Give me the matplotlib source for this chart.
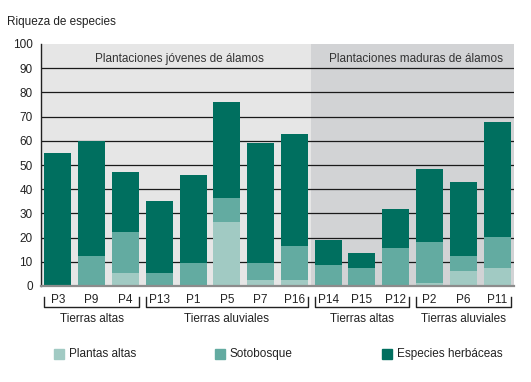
import matplotlib.pyplot as plt
import numpy as np
from matplotlib.patches import Rectangle
from matplotlib.transforms import blended_transform_factory

plt.rcParams['font.family'] = ['Liberation Sans', 'DejaVu Sans']

# data
parcelas = ['P3', 'P9', 'P4', 'P13', 'P1', 'P5', 'P7', 'P16',
            'P14', 'P15', 'P12', 'P2', 'P6', 'P11']
plantas_altas = [0, 0.5, 5.5, 0.5, 0.5, 26.5, 2.5, 2.5, 0.5, 0.5, 0.5, 1.2, 6.2, 7.4]
sotobosque = [0.5, 12, 17, 5, 9, 10, 7, 14, 8, 7, 15, 17, 6.2, 12.8]   # layer height
herbaceas = [54.5, 47.5, 24.5, 29.5, 36.5, 39.5, 49.5, 46.5, 10.5, 6, 16.5, 30, 30.5, 47.5]
grupos = [('Tierras altas', 0, 2), ('Tierras aluviales', 3, 7),
          ('Tierras altas', 8, 10), ('Tierras aluviales', 11, 13)]
plantaciones = [('Plantaciones jóvenes de álamos', -0.5, 7.5, 3.6),
                ('Plantaciones maduras de álamos', 7.5, 13.5, 10.6)]

c_light = '#a1cac3'
c_mid = '#63aba1'
c_dark = '#006f5f'

fig = plt.figure(figsize=(5.31, 3.82), dpi=100)
ax = fig.add_axes([41 / 531, 1 - 286 / 382, 473 / 531, 242 / 382])

x = np.arange(len(parcelas))
pa = np.array(plantas_altas)
so = np.array(sotobosque)
he = np.array(herbaceas)

# background bands
ax.axvspan(-0.5, 7.5, color='#e6e6e6', zorder=0, lw=0)
ax.axvspan(7.5, 13.5, color='#d2d3d5', zorder=0, lw=0)
for v in range(10, 100, 10):
    ax.axhline(v, color='#1a1a1a', lw=0.9, zorder=1)

ax.bar(x, pa, width=0.8, color=c_light, zorder=2)
ax.bar(x, so, width=0.8, bottom=pa, color=c_mid, zorder=2)
ax.bar(x, he, width=0.8, bottom=pa + so, color=c_dark, zorder=2)

ax.set_xlim(-0.5, 13.5)
ax.set_ylim(0, 100)
ax.set_yticks(range(0, 101, 10))
ax.set_xticks(x)
ax.set_xticklabels(parcelas)
ax.tick_params(length=0, labelsize=8.5, colors='#222222')
ax.tick_params(axis='x', pad=6)
ax.tick_params(axis='y', pad=6)
for s in ['top', 'right']:
    ax.spines[s].set_visible(False)
ax.spines['left'].set_color('#222222')
ax.spines['left'].set_linewidth(1)
ax.spines['bottom'].set_color('#8c8c8c')
ax.spines['bottom'].set_linewidth(1.6)

for txt, a, b, xc in plantaciones:
    ax.text(xc, 93.8, txt, ha='center', va='center', fontsize=8.5, color='#333333', zorder=3)

# brackets under the tick labels
tr = blended_transform_factory(ax.transData, ax.transAxes)
y_h = -21 / 242
y_t = -11 / 242
for txt, i0, i1 in grupos:
    xa, xb = i0 - 0.4, i1 + 0.4
    ax.plot([xa, xa, xb, xb], [y_t, y_h, y_h, y_t], color='#222222', lw=1,
            transform=tr, clip_on=False)
    ax.text((i0 + i1) / 2, -33 / 242, txt, ha='center', va='center',
            fontsize=8.5, color='#222222', transform=tr)

fig.text(7 / 531, 1 - 22 / 382, 'Riqueza de especies', ha='left', va='center',
         fontsize=8.5, color='#222222')

# legend
legend = [('Plantas altas', c_light, 54), ('Sotobosque', c_mid, 215),
          ('Especies herbáceas', c_dark, 382)]
for txt, col, px in legend:
    fig.patches.append(Rectangle((px / 531, 1 - 359 / 382), 10 / 531, 10 / 382,
                                 color=col, transform=fig.transFigure))
    fig.text((px + 15) / 531, 1 - 354 / 382, txt, ha='left', va='center',
             fontsize=8.5, color='#222222')

fig.savefig('out.png', dpi=100)
